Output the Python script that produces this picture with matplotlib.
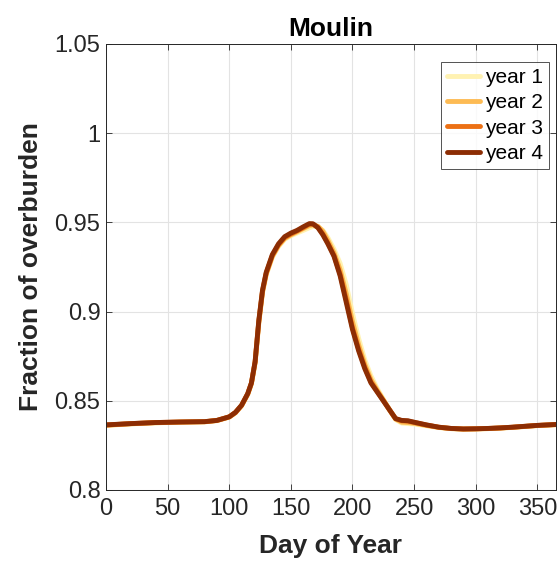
import matplotlib
matplotlib.use("Agg")
import matplotlib.pyplot as plt

plt.rcParams['font.family'] = ['Liberation Sans', 'DejaVu Sans']

days = [0, 20, 40, 60, 80, 90, 100, 105, 110, 115, 118, 121, 124, 127, 130, 135,
        140, 145, 150, 155, 160, 165, 168, 172, 176, 180, 185, 190, 195, 200, 205,
        210, 215, 220, 225, 230, 235, 240, 245, 250, 260, 270, 280, 290, 300, 310,
        320, 330, 340, 350, 365]

year1 = [0.8362, 0.8370, 0.8376, 0.8380, 0.8382, 0.8389, 0.8408, 0.8432, 0.8472, 0.8535,
         0.8595, 0.8710, 0.8935, 0.9105, 0.9205, 0.9305, 0.9365, 0.9405, 0.9425, 0.9440,
         0.9455, 0.9470, 0.9478, 0.9475, 0.9455, 0.9415, 0.9350, 0.9270, 0.9150, 0.8990,
         0.8850, 0.8730, 0.8640, 0.8570, 0.8510, 0.8450, 0.8395, 0.8375, 0.8372, 0.8370,
         0.8360, 0.8350, 0.8344, 0.8341, 0.8342, 0.8344, 0.8347, 0.8351, 0.8356, 0.8361, 0.8366]
year2 = [0.8363, 0.8371, 0.8377, 0.8380, 0.8382, 0.8389, 0.8409, 0.8433, 0.8473, 0.8537,
         0.8597, 0.8715, 0.8940, 0.9110, 0.9210, 0.9310, 0.9370, 0.9410, 0.9430, 0.9447,
         0.9465, 0.9482, 0.9486, 0.9478, 0.9450, 0.9400, 0.9330, 0.9235, 0.9100, 0.8945,
         0.8815, 0.8705, 0.8620, 0.8560, 0.8505, 0.8450, 0.8398, 0.8380, 0.8378, 0.8374,
         0.8362, 0.8351, 0.8344, 0.8341, 0.8342, 0.8344, 0.8347, 0.8351, 0.8356, 0.8361, 0.8366]
year3 = [0.8364, 0.8372, 0.8378, 0.8381, 0.8383, 0.8390, 0.8410, 0.8434, 0.8474, 0.8539,
         0.8599, 0.8718, 0.8945, 0.9115, 0.9215, 0.9315, 0.9375, 0.9415, 0.9435, 0.9452,
         0.9470, 0.9490, 0.9490, 0.9472, 0.9435, 0.9385, 0.9315, 0.9210, 0.9065, 0.8910,
         0.8790, 0.8688, 0.8606, 0.8553, 0.8502, 0.8450, 0.8400, 0.8388, 0.8386, 0.8379,
         0.8364, 0.8352, 0.8345, 0.8342, 0.8343, 0.8345, 0.8348, 0.8352, 0.8357, 0.8362, 0.8367]
year4 = [0.8365, 0.8372, 0.8378, 0.8381, 0.8383, 0.8390, 0.8410, 0.8435, 0.8475, 0.8540,
         0.8600, 0.8720, 0.8950, 0.9120, 0.9220, 0.9320, 0.9380, 0.9420, 0.9440, 0.9455,
         0.9475, 0.9493, 0.9492, 0.9470, 0.9430, 0.9380, 0.9310, 0.9200, 0.9050, 0.8900,
         0.8780, 0.8680, 0.8600, 0.8550, 0.8500, 0.8450, 0.8400, 0.8390, 0.8388, 0.8380,
         0.8365, 0.8352, 0.8345, 0.8342, 0.8343, 0.8345, 0.8348, 0.8352, 0.8357, 0.8362, 0.8367]

labels = ['year 1', 'year 2', 'year 3', 'year 4']
colors = ['#fff2b2', '#fdbb54', '#ec7014', '#8c2d04']
xticks = [0, 50, 100, 150, 200, 250, 300, 350]
yticks = [0.8, 0.85, 0.9, 0.95, 1.0, 1.05]
yticklabels = ['0.8', '0.85', '0.9', '0.95', '1', '1.05']

fig = plt.figure(figsize=(5.58, 5.61), dpi=100)
ax = fig.add_axes([0.19, 0.1266, 0.806, 0.795])

for y, lab, c in zip([year1, year2, year3, year4], labels, colors):
    ax.plot(days, y, color=c, lw=3.5, label=lab, solid_capstyle='round')

ax.set_xlim(0, 365)
ax.set_ylim(0.8, 1.05)
ax.set_xticks(xticks)
ax.set_yticks(yticks)
ax.set_yticklabels(yticklabels)
ax.tick_params(direction='in', labelsize=17, colors='#262626', top=True, right=True,
               length=4, width=0.6, pad=4)
ax.tick_params(axis='x', pad=6)
ax.grid(True, color='#e3e3e3', lw=0.8)
ax.set_axisbelow(True)
for s in ax.spines.values():
    s.set_color('#262626')
    s.set_linewidth(0.7)

ax.set_xlabel('Day of Year', fontsize=19, fontweight='bold', color='#262626', labelpad=10)
ax.set_ylabel('Fraction of overburden', fontsize=19, fontweight='bold', color='#262626', labelpad=8)
ax.set_title('Moulin', fontsize=19, fontweight='bold', pad=6)

leg = ax.legend(loc='upper right', bbox_to_anchor=(1 - 7 / 450, 1 - 18 / 446),
                fontsize=15, frameon=True, fancybox=False,
                edgecolor='#262626', handlelength=1.6, handletextpad=0.2,
                labelspacing=0.3, borderpad=0.3, borderaxespad=0.0)
leg.get_frame().set_linewidth(0.7)
for t in leg.get_texts():
    t.set_color('#000000')

fig.savefig('out.png', dpi=100)
